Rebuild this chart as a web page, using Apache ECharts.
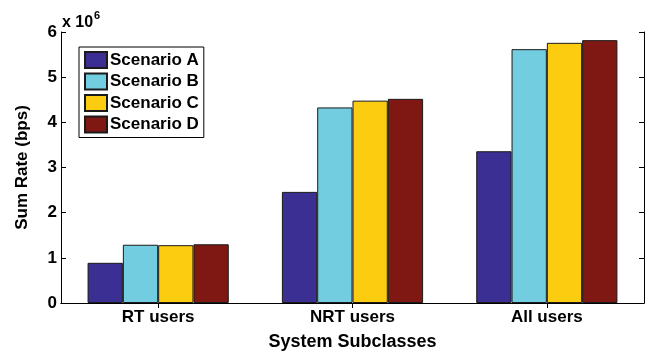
<!DOCTYPE html>
<html>
<head>
<meta charset="utf-8">
<script src="https://cdn.jsdelivr.net/npm/echarts@6/dist/echarts.min.js"></script>
<style>
  html, body { margin: 0; padding: 0; background: #fff; }
  #chart { width: 648px; height: 354px; }
</style>
</head>
<body>
<div id="chart"></div>
<script>
// Sum rate per system subclass, in units of 10^6 bps
const categories = ['RT users', 'NRT users', 'All users'];
const scenarioNames = ['Scenario A', 'Scenario B', 'Scenario C', 'Scenario D'];
const scenarioA = [0.89, 2.46, 3.36];
const scenarioB = [1.29, 4.33, 5.62];
const scenarioC = [1.28, 4.48, 5.76];
const scenarioD = [1.30, 4.52, 5.82];
const yTicks = [0, 1, 2, 3, 4, 5, 6];
const colors = ['#3c2f93', '#72cde0', '#fccc10', '#7f1812'];

const values = [scenarioA, scenarioB, scenarioC, scenarioD];
const font = 'Liberation Sans, Arial, Helvetica, sans-serif';

const chart = echarts.init(document.getElementById('chart'));

const axisLine = { show: true, lineStyle: { color: '#000', width: 1 } };
const tickIn = { show: true, inside: true, length: 5, lineStyle: { color: '#000' } };

chart.setOption({
  animation: false,
  textStyle: { fontFamily: font },
  grid: { left: 61, right: 4, top: 32, bottom: 51, containLabel: false, outerBoundsMode: 'none' },
  legend: {
    orient: 'vertical',
    left: 79,
    top: 47,
    data: scenarioNames,
    itemWidth: 22,
    itemHeight: 16,
    itemGap: 3.5,
    padding: [4, 5, 4, 5],
    borderColor: '#000',
    borderWidth: 1,
    backgroundColor: '#fff',
    icon: 'rect',
    textStyle: { fontFamily: font, fontWeight: 'bold', fontSize: 17, color: '#000', padding: [0, 0, 0, -2] }
  },
  xAxis: [
    {
      type: 'category',
      data: categories,
      position: 'bottom',
      axisLine: axisLine,
      axisTick: { show: false },
      axisLabel: { color: '#000', fontWeight: 'bold', fontSize: 17, margin: 6 },
      name: 'System Subclasses',
      nameLocation: 'middle',
      nameGap: 30,
      nameTextStyle: { color: '#000', fontWeight: 'bold', fontSize: 18 }
    },
    {
      type: 'category',
      data: categories,
      position: 'top',
      axisLine: axisLine,
      axisTick: Object.assign({ alignWithLabel: true }, tickIn),
      axisLabel: { show: false }
    }
  ],
  yAxis: [
    {
      type: 'value',
      min: yTicks[0],
      max: yTicks[yTicks.length - 1],
      interval: 1,
      position: 'left',
      axisLine: axisLine,
      axisTick: tickIn,
      splitLine: { show: false },
      axisLabel: { color: '#000', fontWeight: 'bold', fontSize: 17, margin: 4 },
      name: 'Sum Rate (bps)',
      nameLocation: 'middle',
      nameGap: 30,
      nameRotate: 90,
      nameTextStyle: { color: '#000', fontWeight: 'bold', fontSize: 17 }
    },
    {
      type: 'value',
      min: yTicks[0],
      max: yTicks[yTicks.length - 1],
      interval: 1,
      position: 'right',
      axisLine: axisLine,
      axisTick: tickIn,
      splitLine: { show: false },
      axisLabel: { show: false }
    }
  ],
  series: scenarioNames.map((name, i) => ({
    name: name,
    type: 'bar',
    xAxisIndex: 0,
    yAxisIndex: 0,
    data: values[i],
    barWidth: 35.3,
    barGap: '0%',
    itemStyle: { color: colors[i], borderColor: '#1a1a1a', borderWidth: 1 }
  })),
  graphic: [
    {
      type: 'text',
      left: 62,
      top: 15,
      style: {
        text: 'x 10',
        font: 'bold 16px ' + font,
        fill: '#000'
      }
    },
    {
      type: 'text',
      left: 94,
      top: 10,
      style: {
        text: '6',
        font: 'bold 11px ' + font,
        fill: '#000'
      }
    }
  ]
});
</script>
</body>
</html>
